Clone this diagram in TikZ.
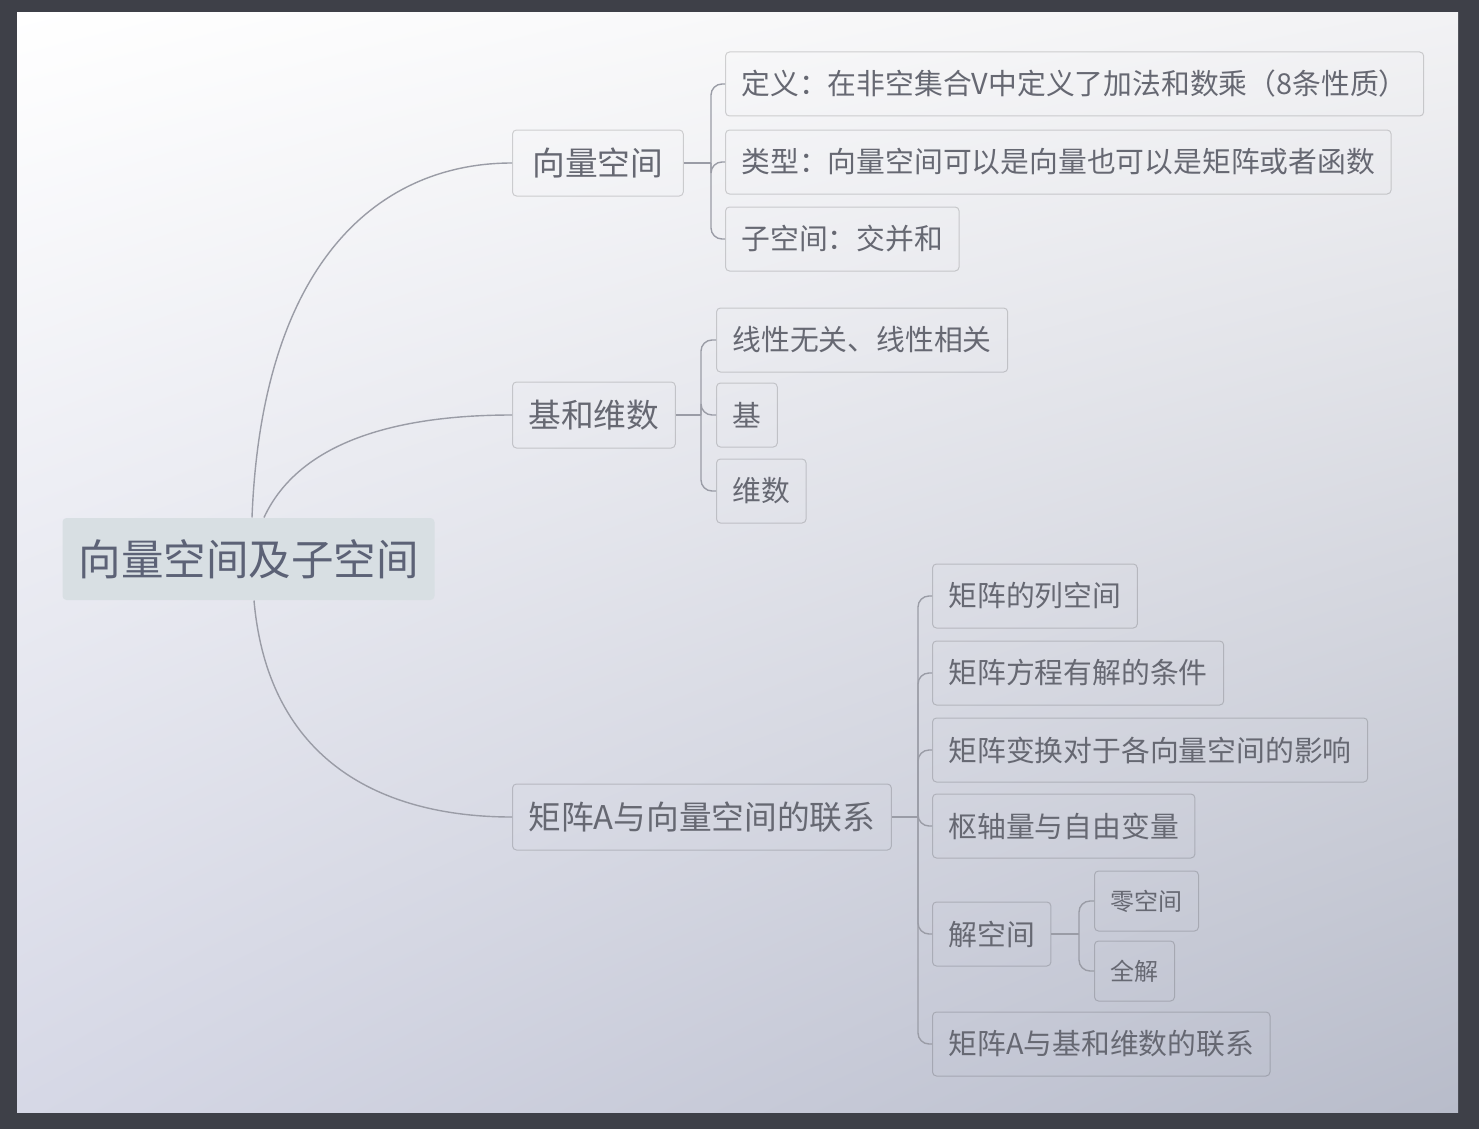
\documentclass[tikz,border=0pt]{standalone}
\usepackage{fontspec}
\newfontfamily\cjk{Noto Sans CJK SC}
\usetikzlibrary{positioning, shadings}
\definecolor{frame}{HTML}{3E4048}
\definecolor{ink}{HTML}{666872}
\definecolor{rootink}{HTML}{5C6276}
\definecolor{rootfill}{HTML}{D8DFE3}
\definecolor{wire}{HTML}{9A9CA6}
\definecolor{pageTR}{HTML}{F2F2F4}
\definecolor{pageBL}{HTML}{D6D8E6}
\definecolor{pageBR}{HTML}{B8BCCA}
\begin{document}
\begin{tikzpicture}%
    [x=1pt, y=-1pt,
     box/.style = {draw=black, draw opacity=0.16, rounded corners=4pt, line width=1pt, text=ink, font=\cjk, anchor=west},
     root/.style = {box, draw=none, fill=rootfill, text=rootink, inner xsep=16pt, minimum height=82pt, font=\cjk\fontsize{42.5}{48}\selectfont},
     topic/.style = {box, inner xsep=20pt, minimum height=66pt, font=\cjk\fontsize{32.7}{38}\selectfont},
     leaf/.style = {box, inner xsep=16pt, minimum height=64pt, font=\cjk\fontsize{28.8}{34}\selectfont},
     subleaf/.style = {box, inner xsep=16pt, minimum height=60pt, font=\cjk\fontsize{24}{30}\selectfont},
     link/.style = {draw=wire, line width=1.4pt},
     bracket/.style = {link, rounded corners=11pt}]
    \useasboundingbox (0,0) rectangle (1479,1129);
    \fill[frame] (0,0) rectangle (1479,1129);
    \shade[upper left=white, upper right=pageTR, lower left=pageBL, lower right=pageBR] (17,13) rectangle (1458,1112);

    \node[root] (root) at (62,559) {向量空间及子空间};

    \node[topic] (vs)    at (512,163) {向量空间};
    \node[topic, inner xsep=16pt] (basis) at (512,415) {基和维数};
    \node[topic, inner xsep=16pt] (matA) at (512,817) {矩阵A与向量空间的联系};

    % vector space
    \node[leaf] (vsDef)  at (725,84)  {定义：在非空集合V中定义了加法和数乘（8条性质）\hspace{12pt}};
    \node[leaf] (vsType) at (725,162) {类型：向量空间可以是向量也可以是矩阵或者函数};
    \node[leaf] (vsSub)  at (725,239) {子空间：交并和};

    % basis and dimension
    \node[leaf] (indep)     at (716,340) {线性无关、线性相关};
    \node[leaf] (basisLeaf) at (716,415) {基};
    \node[leaf] (dim)       at (716,491) {维数};

    % matrix A
    \node[leaf] (colSp)    at (932,596)  {矩阵的列空间};
    \node[leaf] (solCond)  at (932,673)  {矩阵方程有解的条件};
    \node[leaf] (transf)   at (932,750)  {矩阵变换对于各向量空间的影响};
    \node[leaf] (pivot)    at (932,826)  {枢轴量与自由变量};
    \node[leaf] (solSp)    at (932,934)  {解空间};
    \node[leaf] (matBasis) at (932,1044) {矩阵A与基和维数的联系};
    \node[subleaf] (nullSp)  at (1094,901) {零空间};
    \node[subleaf] (fullSol) at (1094,971) {全解};

    \draw[link] ([xshift=190pt]root.north west) .. controls (262,260) and (380,163) .. (vs.west);
    \draw[link] ([xshift=202pt]root.north west) .. controls (300,440) and (400,415) .. (basis.west);
    \draw[link] ([xshift=192pt]root.south west) .. controls (268,760) and (380,817) .. (matA.west);

    \coordinate (vsJ) at (711,163);
    \draw[link] (vs.east) -- (vsJ);
    \foreach \c in {vsDef, vsType, vsSub}
        \draw[bracket] (vsJ) |- (\c.west);

    \coordinate (basisJ) at (701,415);
    \draw[link] (basis.east) -- (basisJ);
    \foreach \c in {indep, basisLeaf, dim}
        \draw[bracket] (basisJ) |- (\c.west);

    \coordinate (matJ) at (918,817);
    \draw[link] (matA.east) -- (matJ);
    \foreach \c in {colSp, solCond, transf, pivot, solSp, matBasis}
        \draw[bracket] (matJ) |- (\c.west);

    \coordinate (solJ) at (1079,934);
    \draw[link] (solSp.east) -- (solJ);
    \foreach \c in {nullSp, fullSol}
        \draw[bracket] (solJ) |- (\c.west);
\end{tikzpicture}
\end{document}
